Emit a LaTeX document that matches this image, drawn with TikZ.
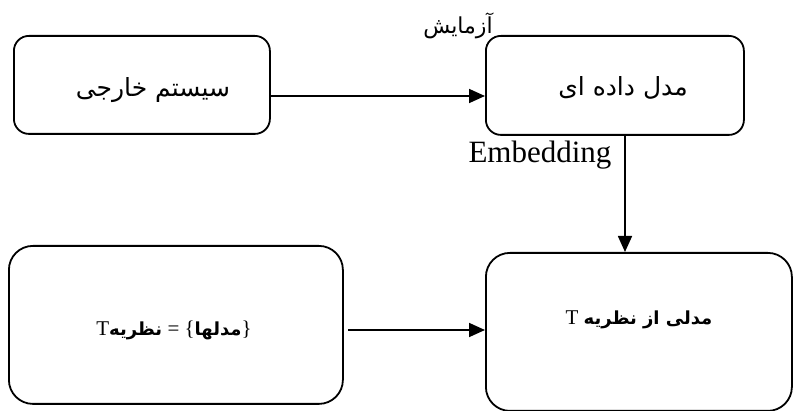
\documentclass[tikz,border=0pt]{standalone}
\usepackage{fontspec}
\setmainfont{Liberation Serif}
\newfontfamily\fa[Script=Arabic]{DejaVu Sans}
\TeXXeTstate=1
\usetikzlibrary{arrows.meta}
\begin{document}
\begin{tikzpicture}[x=1pt,y=-1pt,
  box/.style={draw,line width=1.8pt,inner sep=0pt,anchor=north west},
  conn/.style={line width=1.7pt,-{Triangle[length=16pt,width=14pt]}},
  lbl/.style={inner sep=0pt}]
\useasboundingbox (0,0) rectangle (793,411);
% boxes
\node[box,rounded corners=15pt,minimum width=256pt,minimum height=98pt] (ext) at (13,35) {};
\node[box,rounded corners=15pt,minimum width=258pt,minimum height=99pt] (data) at (485,35) {};
\node[box,rounded corners=24pt,minimum width=334pt,minimum height=158pt] (thy) at (8,245) {};
\node[box,rounded corners=24pt,minimum width=306pt,minimum height=158pt] (mth) at (485,252) {};
% texts
\node[lbl] (extT) at (153,90) {\fa\fontsize{25}{30}\selectfont\beginR سیستم خارجی\endR};
\node[lbl] (dataT) at (623,88) {\fa\fontsize{25}{30}\selectfont\beginR مدل داده ای\endR};
\node[lbl] (exp) at (458,26) {\fa\fontsize{22}{26}\selectfont\beginR آزمایش\endR};
\node[lbl] (emb) at (540,155) {\fontsize{31}{36}\selectfont Embedding};
\node[lbl] (thyT) at (174,330) {\fontsize{21}{25}\selectfont T{\fa\bfseries\fontsize{18}{23}\selectfont\beginR نظریه\endR} = \{{\fa\bfseries\fontsize{18}{23}\selectfont\beginR مدلها\endR}\}};
\node[lbl] (mthT) at (639,320) {\fontsize{21}{25}\selectfont T {\fa\bfseries\fontsize{18}{23}\selectfont\beginR مدلی از نظریه\endR}};
% connectors
\coordinate (ya) at (0,96);
\coordinate (xb) at (625,0);
\coordinate (yc) at (0,330);
\coordinate (xc) at (348,0);
\draw[conn] (ext.east |- ya) -- (data.west |- ya);
\draw[conn] (data.south -| xb) -- (mth.north -| xb);
\draw[conn] (xc |- yc) -- (mth.west |- yc);
\end{tikzpicture}
\end{document}
